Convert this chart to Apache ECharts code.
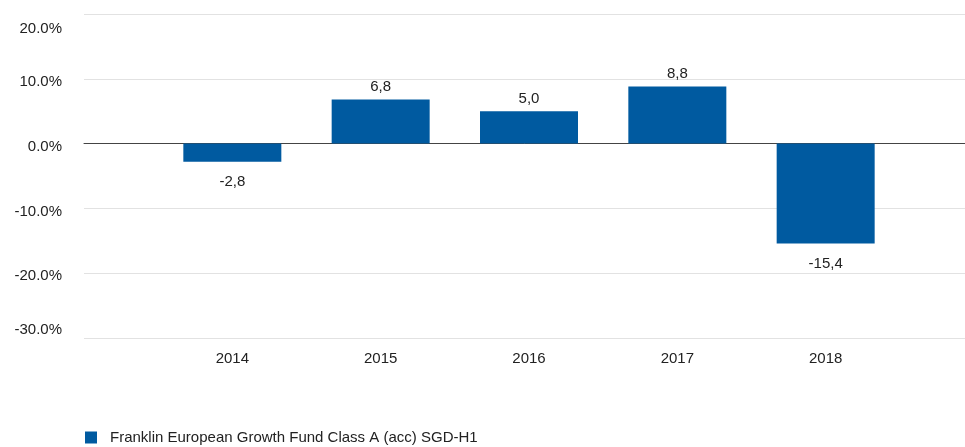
<!DOCTYPE html>
<html>
<head>
<meta charset="utf-8">
<script src="https://cdn.jsdelivr.net/npm/echarts@6/dist/echarts.min.js"></script>
<style>
  html, body { margin: 0; padding: 0; background: #fff; }
  #chart { width: 965px; height: 447px; }
</style>
</head>
<body>
<div id="chart"></div>
<script>
// 年份（两端留空位）
var years = ['', '2014', '2015', '2016', '2017', '2018', '']
// 年度表现 %
var returns = [null, -2.8, 6.8, 5.0, 8.8, -15.4, null]
var seriesName = 'Franklin European Growth Fund Class A (acc) SGD-H1'
var yTicks = { min: -30, max: 20, step: 10 }

var myChart = echarts.init(document.getElementById('chart'))

var barData = returns.map(function (v) {
  if (v === null) return null
  return {
    value: v,
    label: { position: v < 0 ? 'bottom' : 'top', distance: v < 0 ? 13 : 5 }
  }
})

myChart.setOption({
  animation: false,
  textStyle: { fontFamily: 'Liberation Sans, Arial, sans-serif' },
  grid: { left: 84, width: 890, top: 14, bottom: 109, outerBoundsMode: 'none' },
  legend: {
    left: 80,
    bottom: -3,
    data: [seriesName],
    icon: 'rect',
    itemWidth: 12,
    itemHeight: 12,
    itemGap: 13,
    textStyle: { fontSize: 15, color: '#222', padding: [0, 0, 0, 8] }
  },
  xAxis: {
    type: 'category',
    data: years,
    boundaryGap: false,
    axisTick: { show: false },
    axisLine: { onZero: true, lineStyle: { color: '#444', width: 1 } },
    axisLabel: { color: '#222', fontSize: 15, margin: 13, interval: 0 }
  },
  yAxis: {
    type: 'value',
    min: yTicks.min,
    max: yTicks.max,
    interval: yTicks.step,
    axisLine: { show: false },
    axisTick: { show: false },
    splitLine: { lineStyle: { color: '#e2e2e2', width: 1 } },
    axisLabel: {
      color: '#222',
      fontSize: 15,
      margin: 22,
      verticalAlignMaxLabel: 'top',
      verticalAlignMinLabel: 'bottom',
      // 标签略向下偏移（上方留一个小空行）
      formatter: function (v) { return '{s| }\n{m|' + v.toFixed(1) + '%}' },
      rich: {
        s: { fontSize: 1, lineHeight: 6 },
        m: { fontSize: 15, color: '#222', lineHeight: 17 }
      }
    }
  },
  series: [{
    name: seriesName,
    type: 'bar',
    data: barData,
    barWidth: 98,
    itemStyle: { color: '#005AA0' },
    label: {
      show: true,
      color: '#222',
      fontSize: 15,
      formatter: function (p) { return p.value.toFixed(1).replace('.', ',') }
    }
  }]
})
</script>
</body>
</html>
